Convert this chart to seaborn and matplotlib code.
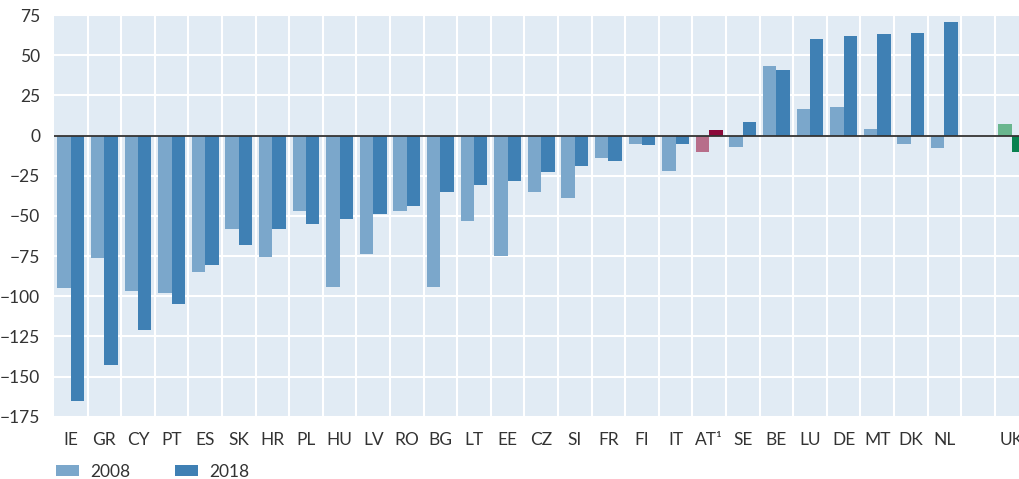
import numpy as np
import pandas as pd
import matplotlib
matplotlib.use("Agg")
import matplotlib.pyplot as plt
import seaborn as sns
from matplotlib.ticker import MultipleLocator, FixedLocator

countries = ["IE", "GR", "CY", "PT", "ES", "SK", "HR", "PL", "HU", "LV", "RO", "BG",
             "LT", "EE", "CZ", "SI", "FR", "FI", "IT", "AT¹", "SE", "BE", "LU", "DE",
             "MT", "DK", "NL", " ", "UK"]
v2008 = [-95, -76, -97, -98, -85, -58, -75.5, -47, -94.5, -74, -47, -94,
         -53, -75, -35, -39, -14, -5, -22, -10, -7, 43, 16.5, 18,
         4, -5, -8, np.nan, 7]
v2018 = [-165, -143, -121, -105, -80.5, -68, -58, -55, -52, -49, -44, -35,
         -31, -28, -23, -19, -16, -6, -5, 3.5, 8.5, 41, 60, 62,
         63, 64, 70.5, np.nan, -10.5]
years = ["2008", "2018"]

df = pd.DataFrame({
    "country": countries * 2,
    "year": [years[0]] * len(countries) + [years[1]] * len(countries),
    "value": v2008 + v2018,
})

sns.set_theme(style="white")
plt.rcParams["font.family"] = ["Lato", "DejaVu Sans"]

W, H = 1019, 479
fig = plt.figure(figsize=(W / 100, H / 100), dpi=100)
ax = fig.add_axes([54 / W, 1 - 416.7 / H, (W - 54) / W, (416.7 - 15) / H])
ax.set_facecolor("#E1EBF4")

c08, c18 = "#7BA7CB", "#3F80B4"
sns.barplot(data=df, x="country", y="value", hue="year", order=countries,
            hue_order=years, palette=[c08, c18], width=0.8, ax=ax,
            saturation=1, legend=True, edgecolor="none", zorder=3)

special = {"AT¹": ("#B76E8A", "#8B0A3A"), "UK": ("#69B68E", "#0A8250")}
for ci, cont in enumerate(ax.containers):
    for p in cont.patches:
        idx = int(round(p.get_x() + p.get_width() / 2))
        name = countries[idx]
        if name in special:
            p.set_facecolor(special[name][ci])

ax.set_xlim(-0.5, -0.5 + (W - 54) / 33.6)
ax.set_ylim(-175, 75)
ax.yaxis.set_major_locator(MultipleLocator(25))
ax.xaxis.set_minor_locator(FixedLocator(np.arange(len(countries)) + 0.5))
ax.grid(True, axis="y", which="major", color="white", lw=1.5, zorder=1)
ax.grid(True, axis="x", which="minor", color="white", lw=1.5, zorder=1)
ax.grid(False, axis="x", which="major")
ax.axhline(0, color="#333333", lw=1.3, zorder=4)
for s in ax.spines.values():
    s.set_visible(False)
fs = 12.5
ax.tick_params(axis="both", which="both", length=0, labelsize=fs, colors="#333333")
ax.tick_params(axis="y", pad=10)
ax.tick_params(axis="x", pad=11)
ax.set_xlabel("")
ax.set_ylabel("")

handles, labels = ax.get_legend_handles_labels()
ax.get_legend().remove()
fig.legend(handles, labels, loc="center left", bbox_to_anchor=(56 / W, 1 - 472 / H),
           ncol=2, frameon=False, fontsize=fs, handlelength=1.32, handleheight=0.6,
           columnspacing=2.6, handletextpad=0.63, labelcolor="#333333",
           borderpad=0, borderaxespad=0)

fig.savefig("out.png", dpi=100)
